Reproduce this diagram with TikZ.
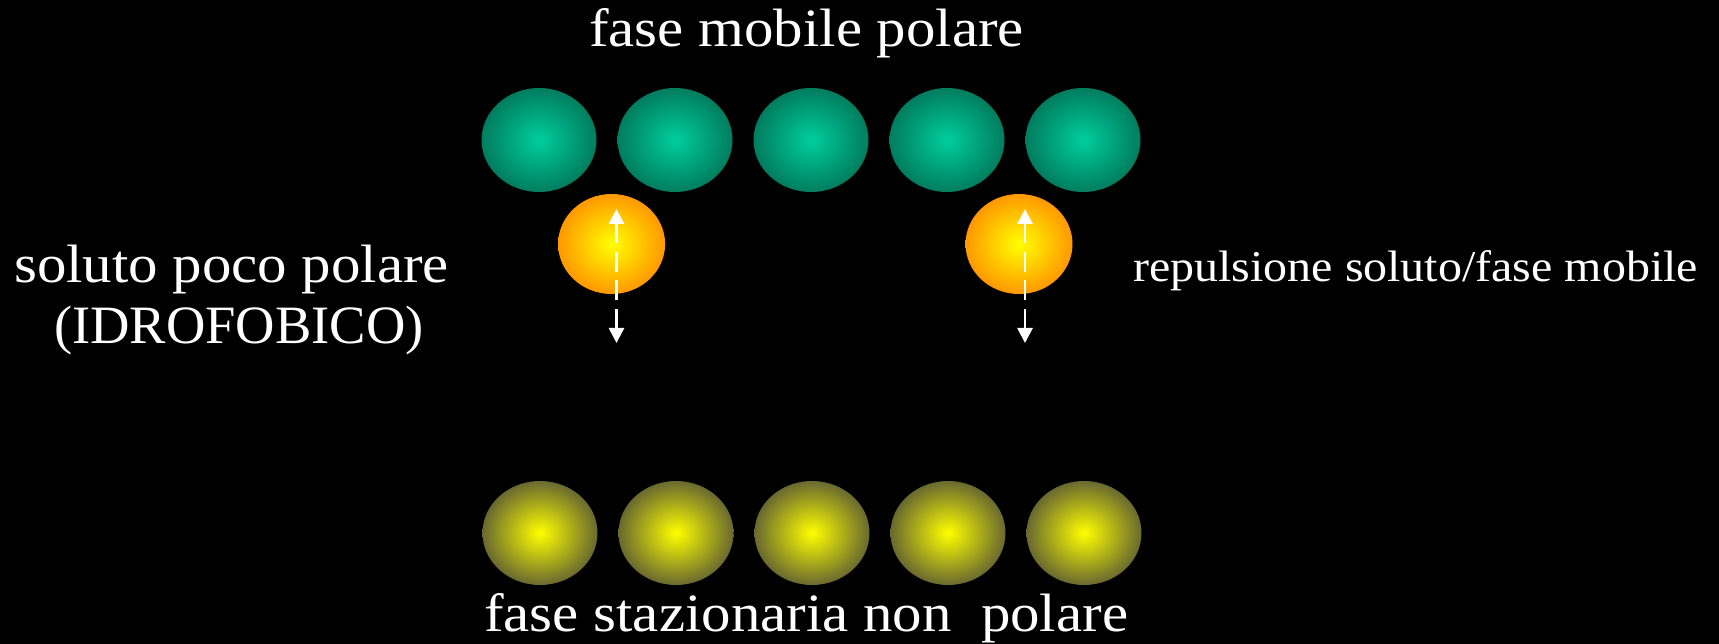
\documentclass[tikz,border=0pt]{standalone}
\usepackage{fontspec}
\setmainfont{Liberation Serif}[FakeStretch=1.09]
\newfontfamily\capsserif{Liberation Serif}[FakeStretch=1.01]
\usetikzlibrary{shapes.geometric,arrows.meta}

\definecolor{mobEdge}{RGB}{0,125,95}
\definecolor{mobCore}{RGB}{0,206,155}
\definecolor{solEdge}{RGB}{255,152,0}
\definecolor{solCore}{RGB}{255,255,0}
\definecolor{staEdge}{RGB}{105,105,48}
\definecolor{staCore}{RGB}{255,255,0}

\tikzset{
  mobile/.style={ellipse, minimum width=115pt, minimum height=104pt, inner sep=0pt,
    shading=radial, inner color=mobCore, outer color=mobEdge},
  solute/.style={ellipse, minimum width=107pt, minimum height=100pt, inner sep=0pt,
    shading=radial, inner color=solCore, outer color=solEdge},
  stationary/.style={ellipse, minimum width=115pt, minimum height=104pt, inner sep=0pt,
    shading=radial, inner color=staCore, outer color=staEdge},
  label/.style={text=white, inner sep=0pt, anchor=base west},
  repel/.style={white, line width=2.7pt, dash pattern=on 20pt off 8.5pt,
    {Triangle[width=15pt,length=15pt]}-{Triangle[width=15pt,length=15pt]}}
}

\begin{document}
\begin{tikzpicture}[x=1pt, y=-1pt]
  \fill[black] (0,0) rectangle (1719,644);
  \useasboundingbox (0,0) rectangle (1719,644);

  % polar mobile phase
  \foreach \i in {0,...,4}
    \node[mobile] (g\i) at ({539+136*\i},140) {};

  % non-polar stationary phase
  \foreach \i in {0,...,4}
    \node[stationary] (y\i) at ({540+136*\i},533) {};

  % weakly polar solute molecules
  \node[solute] (s1) at (611.6,244) {};
  \node[solute] (s2) at (1019,244) {};

  % repulsion arrows
  \coordinate (a1t) at (616.5,209);
  \coordinate (a1b) at (616.5,343);
  \coordinate (a2t) at (1025,209);
  \coordinate (a2b) at (1025,343);
  \draw[repel] (a1t) -- (a1b);
  \draw[repel] (a2t) -- (a2b);

  % labels
  \node[label, font=\fontsize{54}{60}\selectfont] (tmob) at (589,47) {fase mobile polare};
  \node[label, font=\fontsize{54}{60}\selectfont] (tsta) at (484,631) {fase stazionaria non\ \ polare};
  \node[label, font=\fontsize{54}{60}\selectfont] (tsol) at (14,283) {soluto poco polare};
  \node[label, font=\capsserif\fontsize{54}{60}\selectfont] (tidr) at (54,343) {(IDROFOBICO)};
  \node[label, font=\fontsize{44}{50}\selectfont] (trep) at (1133,282) {repulsione soluto/fase mobile};
\end{tikzpicture}
\end{document}
